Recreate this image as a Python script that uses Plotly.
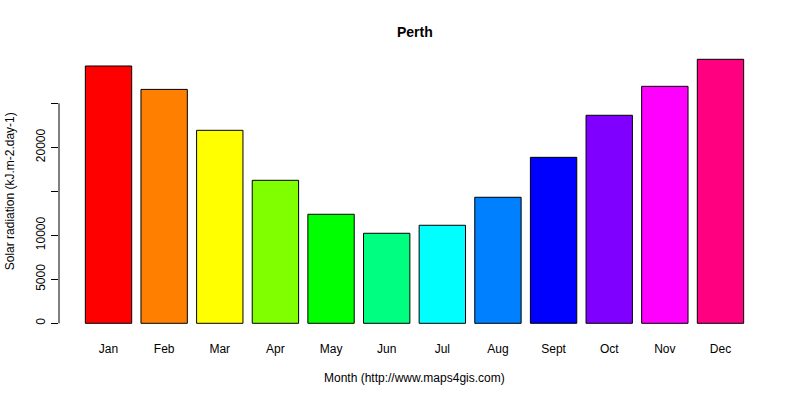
import plotly.graph_objects as go

# monthly solar radiation for Perth (kJ.m-2.day-1)
months = ['Jan', 'Feb', 'Mar', 'Apr', 'May', 'Jun', 'Jul', 'Aug', 'Sept', 'Oct', 'Nov', 'Dec']
radiation = [29240, 26580, 21930, 16250, 12390, 10230, 11140, 14320, 18860, 23640, 26930, 30000]
# R rainbow(12)
colors = ['#FF0000', '#FF8000', '#FFFF00', '#80FF00', '#00FF00', '#00FF80',
          '#00FFFF', '#0080FF', '#0000FF', '#8000FF', '#FF00FF', '#FF0080']
tick_vals = [0, 5000, 10000, 15000, 20000, 25000]
tick_text = ['0', '5000', '10000', '', '20000', '']

FONT = 'Liberation Sans, Arial, sans-serif'


def solar_bar(x, y):
	fig = go.Figure(go.Bar(
		x=x,
		y=y,
		marker=dict(color=colors, line=dict(color='black', width=1)),
		hoverinfo='x+y'))

	fig.update_layout(
		width=800, height=400,
		margin=dict(l=59, r=30, t=48, b=66),
		plot_bgcolor='white', paper_bgcolor='white',
		font=dict(family=FONT, size=12, color='black'),
		bargap=1 - 1 / 1.2,
		showlegend=False)

	fig.update_xaxes(
		range=[-0.89, 11.89],
		showline=False, showgrid=False, zeroline=False,
		ticks='', ticklabelstandoff=6,
		tickfont=dict(size=12))

	fig.update_yaxes(
		range=[-1216, 31284],
		showline=False, showgrid=False, zeroline=False,
		tickmode='array', tickvals=tick_vals, ticktext=tick_text,
		ticks='outside', ticklen=7, tickcolor='black', tickwidth=1,
		tickangle=-90, ticklabelstandoff=1,
		tickfont=dict(size=12))

	# R style axis line only spans the first to last tick
	fig.add_shape(type='line', xref='paper', yref='y',
		x0=0, x1=0, y0=tick_vals[0], y1=tick_vals[-1],
		line=dict(color='black', width=1))

	fig.add_annotation(text='<b>Perth</b>', xref='paper', yref='paper',
		x=0.5, y=1.057, showarrow=False, yanchor='middle',
		font=dict(size=14, family=FONT))
	fig.add_annotation(text='Month (http://www.maps4gis.com)', xref='paper', yref='paper',
		x=0.5, y=-0.154, showarrow=False, yanchor='middle',
		font=dict(size=12, family=FONT))
	fig.add_annotation(text='Solar radiation (kJ.m-2.day-1)', xref='paper', yref='paper',
		x=-0.0685, y=0.5, showarrow=False, textangle=-90,
		xanchor='center', yanchor='middle',
		font=dict(size=12, family=FONT))
	return fig


fig = solar_bar(months, radiation)
# drop the default body margin so the figure fills the window exactly
fig.write_html("out.html", config={'displayModeBar': False},
	post_script="document.body.style.margin='0';")
